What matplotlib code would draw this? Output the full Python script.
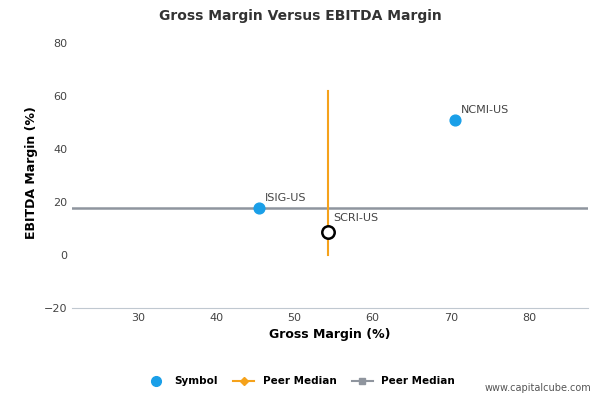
import matplotlib.pyplot as plt
from matplotlib.lines import Line2D

names = ["NCMI-US", "ISIG-US"]
gross = [70.5, 45.5]
ebitda = [51.0, 17.8]
self_name = "SCRI-US"
self_gross = 54.3
self_ebitda = 8.8
median_gross = 54.3
median_ebitda = 17.8
vline_range = [0, 62]

fig = plt.figure(figsize=(6, 4), dpi=100)
ax = fig.add_axes([0.12, 0.23, 0.86, 0.675])

ax.axhline(median_ebitda, color="#8f959e", lw=1.8, zorder=1)
ax.plot([median_gross, median_gross], vline_range, color="#f5a21b", lw=1.5, zorder=2)
ax.scatter(gross, ebitda, s=60, color="#1a9fe8", zorder=3)
ax.scatter([self_gross], [self_ebitda], s=80, facecolor="white", edgecolor="black", lw=1.8, zorder=4)
for n, x, y in zip(names, gross, ebitda):
    ax.annotate(n, (x, y), xytext=(4, 5), textcoords="offset points", fontsize=8, color="#444444")
ax.annotate(self_name, (self_gross, self_ebitda), xytext=(4, 8), textcoords="offset points", fontsize=8, color="#444444")

ax.set_xlim(21.6, 87.5)
ax.set_ylim(-20, 82)
ax.set_xticks([30, 40, 50, 60, 70, 80])
ax.set_yticks([-20, 0, 20, 40, 60, 80])
ax.tick_params(length=0, labelsize=8, colors="#444444")
for s in ["top", "right", "left"]:
    ax.spines[s].set_visible(False)
ax.spines["bottom"].set_color("#c0c8d0")
ax.set_xlabel("Gross Margin (%)", fontsize=9, fontweight="bold")
ax.set_ylabel("EBITDA Margin (%)", fontsize=9, fontweight="bold")
fig.text(0.5, 0.96, "Gross Margin Versus EBITDA Margin", ha="center", va="center", fontsize=10, fontweight="bold", color="#333333")

handles = [
    Line2D([], [], marker="o", color="#1a9fe8", ls="none", markersize=7),
    Line2D([], [], marker="D", color="#f5a21b", markersize=4, lw=1.5),
    Line2D([], [], marker="s", color="#8f959e", markersize=5, lw=1.5),
]
fig.legend(handles, ["Symbol", "Peer Median", "Peer Median"], loc="center", bbox_to_anchor=(0.5, 0.047),
           ncol=3, frameon=False, prop={"size": 7.5, "weight": "bold"}, handlelength=2, columnspacing=1.5)
fig.text(0.985, 0.018, "www.capitalcube.com", ha="right", va="bottom", fontsize=7, color="#555555")

fig.savefig("out.png", dpi=100)
